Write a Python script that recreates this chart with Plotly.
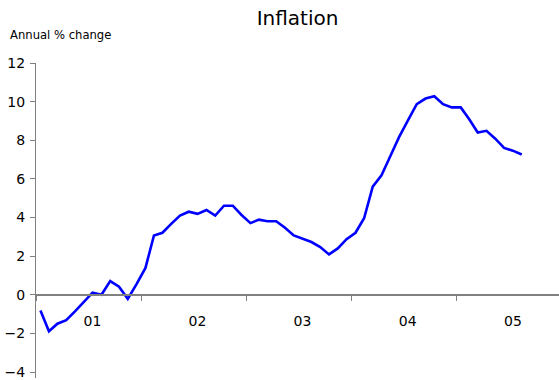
import pandas as pd
import plotly.graph_objects as go

# Monthly observations, Jan 2001 onwards
months = pd.date_range("2001-01-01", periods=56, freq="MS").strftime("%Y-%m").tolist()

# Annual % change in consumer prices
inflation = [
    -0.81, -1.89, -1.50, -1.32, -0.86, -0.40, 0.11, 0.00, 0.71, 0.42, -0.21, 0.55,
    1.39, 3.07, 3.21, 3.67, 4.10, 4.30, 4.19, 4.39, 4.10, 4.61, 4.61, 4.13,
    3.71, 3.89, 3.81, 3.81, 3.47, 3.07, 2.90, 2.73, 2.47, 2.09, 2.40, 2.88,
    3.21, 3.96, 5.60, 6.19, 7.17, 8.16, 9.02, 9.87, 10.16, 10.28, 9.87, 9.70,
    9.70, 9.09, 8.40, 8.49, 8.08, 7.60, 7.46, 7.26,
]

y_ticks = [-4, -2, 0, 2, 4, 6, 8, 10, 12]
y_range = [-4.31, 12]

FONT = "DejaVu Sans, Verdana, sans-serif"
AXIS_GREY = "#808080"

fig = go.Figure(
    go.Scatter(
        x=months,
        y=inflation,
        mode="lines",
        line=dict(color="#0000FF", width=2.6),
        xperiod="M1",
        xperiodalignment="middle",
        hoverinfo="skip",
    )
)

fig.update_layout(
    width=559,
    height=380,
    margin=dict(l=36, r=0, t=63, b=0),
    paper_bgcolor="white",
    plot_bgcolor="white",
    showlegend=False,
    font=dict(family=FONT, color="#000000", size=14),
    title=dict(
        text="Inflation",
        x=0.5,
        xref="paper",
        xanchor="center",
        y=1 - 17.5 / 380,
        yref="container",
        yanchor="middle",
        font=dict(family=FONT, size=20, color="#000000"),
    ),
    annotations=[
        dict(
            text="Annual % change",
            xref="paper",
            yref="paper",
            x=-28 / 523,
            y=1 + 28 / 317,
            xanchor="left",
            yanchor="middle",
            showarrow=False,
            font=dict(family=FONT, size=11.6, color="#000000"),
        )
    ],
)

# The category axis sits on the zero line; year labels centred in each year
fig.update_xaxes(
    type="date",
    range=["2001-01-01", "2005-12-24"],
    dtick="M12",
    tick0="2001-01-01",
    tickformat="%y",
    ticklabelmode="period",
    ticklabelshift=4,
    ticks="outside",
    ticklen=5,
    tickwidth=1,
    tickcolor=AXIS_GREY,
    showline=True,
    linecolor=AXIS_GREY,
    linewidth=1.6,
    showgrid=False,
    zeroline=False,
    anchor="free",
    position=(0 - y_range[0]) / (y_range[1] - y_range[0]),
    ticklabelstandoff=9,
    tickfont=dict(family=FONT, size=14, color="#000000"),
)

fig.update_yaxes(
    range=y_range,
    tickvals=y_ticks,
    ticks="outside",
    ticklen=5,
    tickwidth=1,
    tickcolor=AXIS_GREY,
    showline=True,
    linecolor=AXIS_GREY,
    linewidth=1.2,
    showgrid=False,
    zeroline=False,
    ticklabelstandoff=2,
    ticklabeloverflow="allow",
    tickfont=dict(family=FONT, size=14, color="#000000"),
)

fig.write_html("out.html")
